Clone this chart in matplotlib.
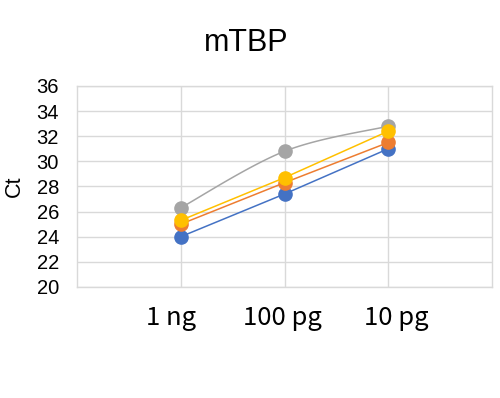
import matplotlib.pyplot as plt
import matplotlib.transforms as mtransforms
import numpy as np

categories = ["1 ng", "100 pg", "10 pg"]
series_blue = [24.0, 27.4, 31.0]
series_orange = [25.0, 28.3, 31.5]
series_gray = [26.3, 30.8, 32.8]
series_yellow = [25.3, 28.7, 32.4]


def smooth(x, y, n=30):
    # Excel-like smoothed line: bezier segments with catmull-rom control points
    p = np.column_stack([x, y]).astype(float)
    pts = np.vstack([p[0], p, p[-1]])
    out = []
    t = np.linspace(0, 1, n)[:, None]
    for i in range(1, len(pts) - 2):
        p0, p1, p2, p3 = pts[i - 1], pts[i], pts[i + 1], pts[i + 2]
        c1 = p1 + (p2 - p0) / 6
        c2 = p2 - (p3 - p1) / 6
        seg = ((1 - t) ** 3) * p1 + 3 * ((1 - t) ** 2) * t * c1 + 3 * (1 - t) * t ** 2 * c2 + t ** 3 * p2
        out.append(seg)
    s = np.vstack(out)
    return s[:, 0], s[:, 1]


def main() -> None:
    plt.rcParams["font.family"] = ["Liberation Sans", "DejaVu Sans"]
    fig = plt.figure(figsize=(5, 3.98), dpi=100)
    ax = fig.add_axes([0.154, 0.279, 0.83, 0.505])

    x = np.arange(1, len(categories) + 1)
    grid_c = "#D9D9D9"
    ms = 9.5
    lw = 1.1

    ax.plot(x, series_blue, color="#4472C4", lw=lw, marker="o", ms=ms, zorder=3)
    ax.plot(x, series_orange, color="#ED7D31", lw=lw, marker="o", ms=ms, zorder=3)
    sx, sy = smooth(x, series_gray)
    ax.plot(sx, sy, color="#A5A5A5", lw=lw, zorder=3)
    ax.plot(x, series_gray, color="#A5A5A5", lw=0, marker="o", ms=ms, zorder=3)
    ax.plot(x, series_yellow, color="#FFC000", lw=lw, marker="o", ms=ms, zorder=3)

    ax.set_xlim(0, len(categories) + 1)
    ax.set_ylim(20, 36)
    ax.set_yticks(np.arange(20, 37, 2))
    ax.set_xticks(x, labels=[""] * len(categories))
    # category labels in the original sit slightly off the gridlines
    base = ax.get_xaxis_transform()
    for xi, cat, dx in zip(x, categories, [-10, -2, 8]):
        tr = base + mtransforms.ScaledTranslation(dx / 100, -0.18, fig.dpi_scale_trans)
        ax.text(xi, 0, cat, transform=tr, ha="center", va="top", fontsize=18.5,
                family=["Noto Sans CJK JP", "DejaVu Sans"])
    ax.tick_params(axis="y", labelsize=14.5, length=0, pad=13)
    ax.tick_params(axis="x", length=0)
    ax.grid(True, color=grid_c, lw=1)
    ax.set_axisbelow(True)
    for sp in ax.spines.values():
        sp.set_color(grid_c)
        sp.set_linewidth(1)

    ax.set_ylabel("Ct", fontsize=15.5, labelpad=8)
    fig.suptitle("mTBP", x=0.493, y=0.93, fontsize=22)

    fig.savefig("out.png", dpi=100)


if __name__ == "__main__":
    main()
